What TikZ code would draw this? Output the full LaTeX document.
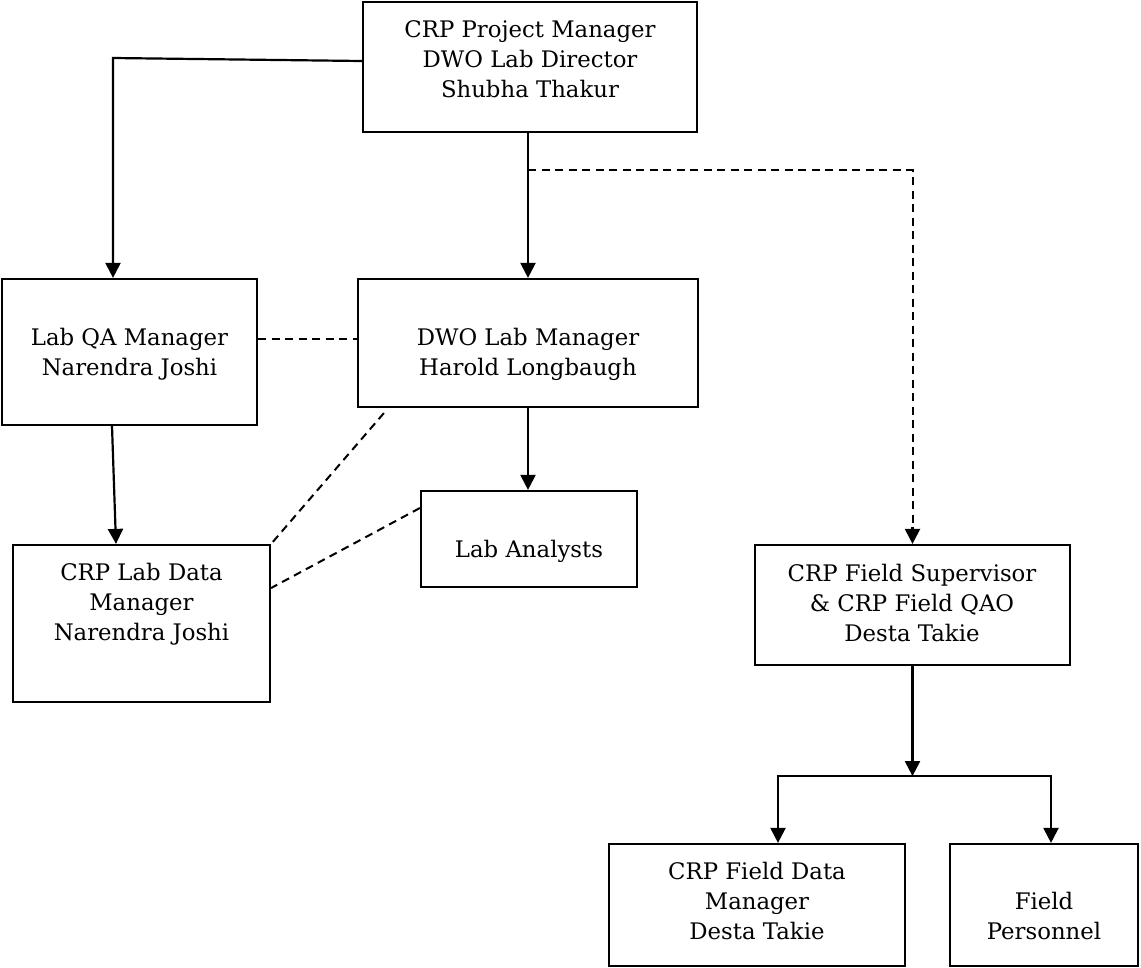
\documentclass[tikz,border=0pt]{standalone}
\usepackage{fontspec}
\setmainfont{DejaVu Serif}
\usetikzlibrary{arrows.meta,calc}
\begin{document}
\begin{tikzpicture}[x=1pt,y=-1pt,
  box/.style={draw, line width=2.2pt, inner sep=0pt},
  boxtext/.style={font=\fontsize{22.8}{30}\selectfont, align=center, inner sep=0pt, anchor=base},
  arr/.style={-{Triangle[length=15pt,width=15pt]}, line width=2.2pt},
  dsh/.style={dash pattern=on 8pt off 5.5pt, line width=2pt}]
  \fill[white] (0,0) rectangle (1141,967);
  \useasboundingbox (0,0) rectangle (1141,967);

  % boxes
  \node[box, minimum width=334pt, minimum height=130pt] (top) at (530,67) {};
  \node[box, minimum width=255pt, minimum height=146pt] (qa) at (129.5,352) {};
  \node[box, minimum width=340pt, minimum height=128pt] (dwo) at (528,343) {};
  \node[box, minimum width=216pt, minimum height=96pt] (la) at (529,539) {};
  \node[box, minimum width=257pt, minimum height=157pt] (ld) at (141.5,623.5) {};
  \node[box, minimum width=315pt, minimum height=120pt] (sup) at (912.5,605) {};
  \node[box, minimum width=296pt, minimum height=122pt] (fdata) at (757,905) {};
  \node[box, minimum width=188pt, minimum height=122pt] (fpers) at (1044,905) {};

  % box texts (anchored at the baseline of the last line)
  \node[boxtext] (topT) at (530,97) {CRP Project Manager\\DWO Lab Director\\Shubha Thakur};
  \node[boxtext] (qaT) at (129.5,375) {Lab QA Manager\\Narendra Joshi};
  \node[boxtext] (dwoT) at (528,375) {DWO Lab Manager\\Harold Longbaugh};
  \node[boxtext] (laT) at (529,557) {Lab Analysts};
  \node[boxtext] (ldT) at (141.5,640) {CRP Lab Data\\Manager\\Narendra Joshi};
  \node[boxtext] (supT) at (912,641) {CRP Field Supervisor\\\&~CRP Field QAO\\Desta Takie};
  \node[boxtext] (fdataT) at (757,939) {CRP Field Data\\Manager\\Desta Takie};
  \node[boxtext] (fpersT) at (1044,939) {Field\\Personnel};

  % reporting lines
  \draw[arr] (top.south -| dwo.north) -- (dwo.north);
  \draw[arr] ([yshift=6pt]top.west) -- (113,58) -- ([xshift=-16.5pt]qa.north);
  \draw[arr] ([xshift=-17.5pt]qa.south) -- ([xshift=-25.5pt]ld.north);
  \draw[arr] (dwo.south) -- (la.north -| dwo.south);

  % coordination lines
  \draw[dsh] ([yshift=13pt]qa.east) -- ([yshift=13pt]qa.east -| dwo.west);
  \draw[dsh] ([xshift=27pt,yshift=-5pt]dwo.south west) -- (ld.north east);
  \draw[dsh] ([yshift=31pt]la.west) -- ([yshift=35.5pt]ld.east);
  \coordinate (split) at ($(top.south -| dwo.north)+(0,37)$);
  \draw[dsh] (split) -| ([yshift=17pt]sup.north);
  \draw[arr] ([yshift=17pt]sup.north) -- (sup.north);

  % field branch
  \coordinate (bar) at ($(sup.south)+(0,110)$);
  \draw[arr] (sup.south) -- (bar);
  \draw[arr] (bar) -| ([xshift=21pt]fdata.north);
  \draw[arr] (bar) -| ([xshift=7pt]fpers.north);
\end{tikzpicture}
\end{document}
